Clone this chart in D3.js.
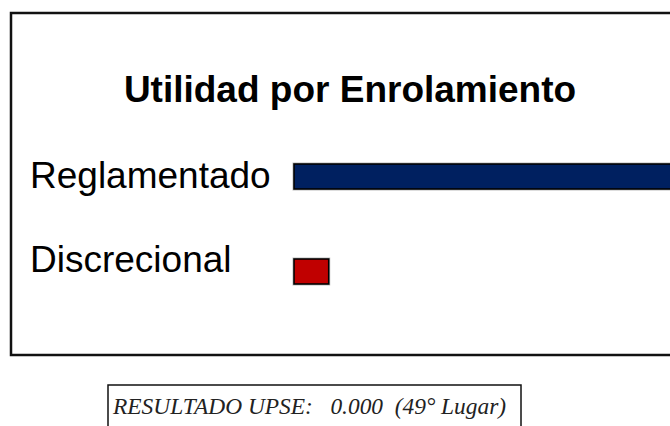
<!DOCTYPE html>
<html>
<head>
<meta charset="utf-8">
<script src="https://cdn.jsdelivr.net/npm/d3@7"></script>
<style>
html,body{margin:0;padding:0;background:#fff;overflow:hidden;}
svg{display:block;}
</style>
</head>
<body>
<svg id="chart" width="670" height="426"></svg>
<script>
const title = "Utilidad por Enrolamiento";
const categories = ["Reglamentado", "Discrecional"];
const values = [1.0, 0.09];
const colors = ["#002060", "#C00000"];
const resultText = "RESULTADO UPSE:   0.000  (49° Lugar)";

const svg = d3.select("#chart");

// outer frame
svg.append("rect")
  .attr("x", 11).attr("y", 13)
  .attr("width", 700).attr("height", 342)
  .attr("fill", "#fff").attr("stroke", "#111").attr("stroke-width", 2.5);

svg.append("text")
  .attr("x", 350).attr("y", 102)
  .attr("text-anchor", "middle")
  .attr("font-family", "Liberation Sans, Arial, sans-serif")
  .attr("font-weight", "bold")
  .attr("font-size", 37)
  .attr("fill", "#000")
  .text(title);

const x = d3.scaleLinear().domain([0, d3.max(values)]).range([294, 680]);
const y = d3.scaleBand().domain(categories).range([164, 284]).paddingInner(70 / 95);

const data = categories.map((c, i) => ({c, v: values[i], color: colors[i]}));

// light halo
svg.selectAll("rect.halo").data(data).enter().append("rect")
  .attr("class", "halo")
  .attr("x", d => x(0) - 1).attr("y", d => y(d.c) - 1)
  .attr("width", d => x(d.v) - x(0) + 2).attr("height", y.bandwidth() + 2)
  .attr("fill", "none").attr("stroke", "#bbb").attr("stroke-width", 1);

svg.selectAll("rect.bar").data(data).enter().append("rect")
  .attr("class", "bar")
  .attr("x", x(0)).attr("y", d => y(d.c))
  .attr("width", d => x(d.v) - x(0)).attr("height", y.bandwidth())
  .attr("fill", d => d.color).attr("stroke", "#000").attr("stroke-width", 1.6);

const labelOffsets = [24, 13];
svg.selectAll("text.label").data(data).enter().append("text")
  .attr("class", "label")
  .attr("x", 30)
  .attr("y", (d, i) => y(d.c) + labelOffsets[i])
  .attr("font-family", "Liberation Sans, Arial, sans-serif")
  .attr("font-size", 37)
  .attr("fill", "#000")
  .text(d => d.c);

// bottom result box
svg.append("rect")
  .attr("x", 108).attr("y", 385)
  .attr("width", 413).attr("height", 80)
  .attr("fill", "#fff").attr("stroke", "#111").attr("stroke-width", 1.5);

svg.append("text")
  .attr("x", 113).attr("y", 414)
  .attr("xml:space", "preserve")
  .style("white-space", "pre")
  .attr("font-family", "Liberation Serif, serif")
  .attr("font-style", "italic")
  .attr("font-size", 23.4)
  .attr("fill", "#222")
  .text(resultText);
</script>
</body>
</html>
